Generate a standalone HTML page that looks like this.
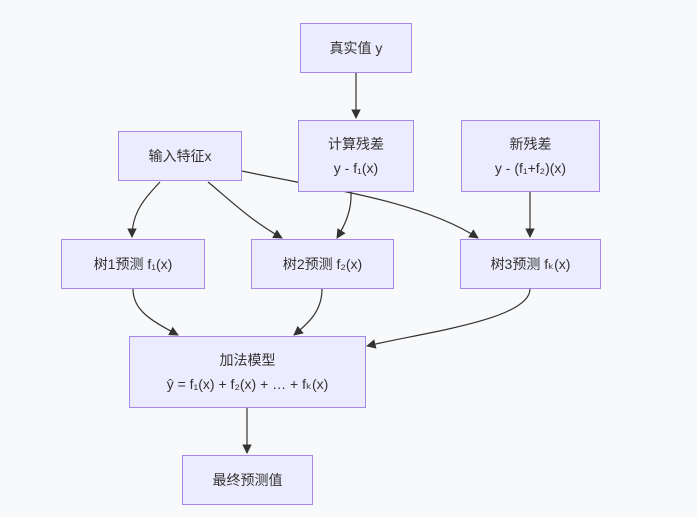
<!DOCTYPE html>
<html><head><meta charset="utf-8"><style>
body{margin:0;background:#f8f9fb;}
.n{position:absolute;box-sizing:border-box;background:#ececfe;border:1.5px solid #a688e6;display:flex;flex-direction:column;align-items:center;justify-content:center;font-family:"Liberation Sans","Noto Sans CJK SC",sans-serif;font-size:14px;color:#333;line-height:24px;text-align:center;}
</style></head><body>
<div style="position:relative;width:697px;height:517px;overflow:hidden">
<svg width="697" height="517" style="position:absolute;left:0;top:0">
<defs><marker id="a" viewBox="0 0 10 10" refX="9" refY="5" markerWidth="8" markerHeight="8" orient="auto"><path d="M0,0L10,5L0,10z" fill="#333"/></marker></defs>
<g stroke="#333" stroke-width="1.2" fill="none" marker-end="url(#a)">
<path d="M356,73V118"/>
<path d="M160,182C145,198 132,212 132,237"/>
<path d="M208,182C230,200 250,220 282,238"/>
<path d="M242,171C320,188 420,200 478,238"/>
<path d="M351,192C352,210 345,225 337,238"/>
<path d="M530,192V237"/>
<path d="M133,289C133,310 150,320 178,335"/>
<path d="M322,289C322,310 310,322 294,335"/>
<path d="M530,289C530,320 420,333 367,346"/>
<path d="M247,408V453"/>
</g></svg>
<div class="n" style="left:300px;top:23px;width:112px;height:50px">真实值 y</div>
<div class="n" style="left:298px;top:120px;width:116px;height:72px"><div>计算残差</div><div>y - f₁(x)</div></div>
<div class="n" style="left:461px;top:120px;width:139px;height:72px"><div>新残差</div><div>y - (f₁+f₂)(x)</div></div>
<div class="n" style="left:118px;top:131px;width:124px;height:50px">输入特征x</div>
<div class="n" style="left:61px;top:239px;width:144px;height:50px">树1预测 f₁(x)</div>
<div class="n" style="left:251px;top:239px;width:143px;height:50px">树2预测 f₂(x)</div>
<div class="n" style="left:460px;top:239px;width:141px;height:50px">树3预测 fₖ(x)</div>
<div class="n" style="left:129px;top:336px;width:237px;height:72px"><div>加法模型</div><div>ŷ = f₁(x) + f₂(x) + … + fₖ(x)</div></div>
<div class="n" style="left:182px;top:455px;width:131px;height:50px">最终预测值</div>
</div></body></html>
